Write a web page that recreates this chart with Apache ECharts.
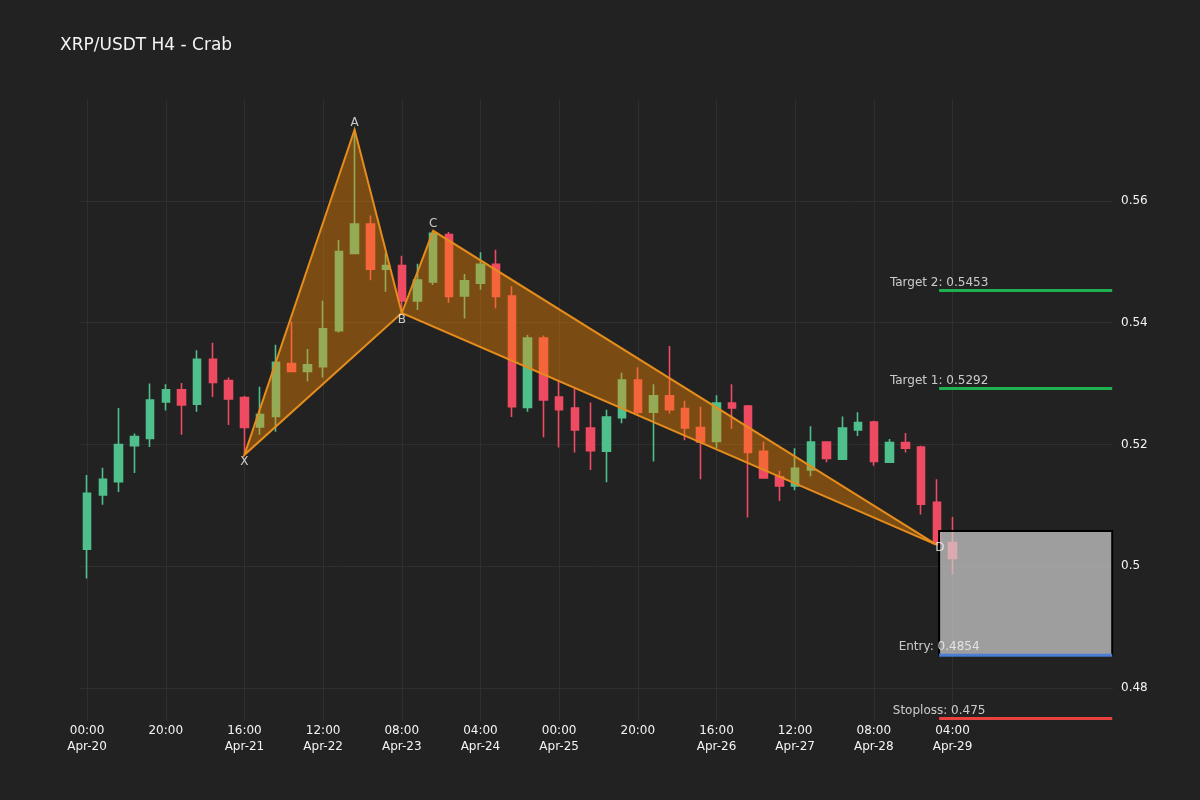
<!DOCTYPE html>
<html>
<head>
<meta charset="utf-8">
<script src="https://cdn.jsdelivr.net/npm/echarts@6/dist/echarts.min.js"></script>
<style>
  html, body { margin: 0; padding: 0; background: #222222; }
  #chart { width: 1200px; height: 800px; }
</style>
</head>
<body>
<div id="chart"></div>
<script>
// H4 candles, index 0 = Apr-20 00:00
const opens = [0.5028, 0.5117, 0.5139, 0.5198, 0.5210, 0.5270, 0.5290, 0.5266, 0.5340, 0.5305,
  0.5277, 0.5229, 0.5246, 0.5333, 0.5320, 0.5328, 0.5387, 0.5514, 0.5562, 0.5488,
  0.5494, 0.5436, 0.5467, 0.5545, 0.5444, 0.5465, 0.5496, 0.5444, 0.5261, 0.5375,
  0.5278, 0.5260, 0.5227, 0.5189, 0.5244, 0.5306, 0.5253, 0.5280, 0.5259, 0.5228,
  0.5205, 0.5268, 0.5263, 0.5189, 0.5147, 0.5132, 0.5158, 0.5204, 0.5176, 0.5224,
  0.5237, 0.5171, 0.5203, 0.5196, 0.5105, 0.5039];
const closes = [0.5120, 0.5143, 0.5200, 0.5213, 0.5273, 0.5290, 0.5265, 0.5340, 0.5302, 0.5275,
  0.5228, 0.5249, 0.5335, 0.5320, 0.5331, 0.5390, 0.5517, 0.5562, 0.5488, 0.5494,
  0.5436, 0.5470, 0.5547, 0.5443, 0.5469, 0.5496, 0.5443, 0.5262, 0.5375, 0.5273,
  0.5257, 0.5224, 0.5190, 0.5245, 0.5306, 0.5253, 0.5280, 0.5257, 0.5227, 0.5204,
  0.5268, 0.5260, 0.5187, 0.5145, 0.5132, 0.5161, 0.5204, 0.5177, 0.5227, 0.5236,
  0.5172, 0.5203, 0.5194, 0.5102, 0.5037, 0.5013];
const lows = [0.4980, 0.5101, 0.5122, 0.5153, 0.5196, 0.5256, 0.5216, 0.5254, 0.5278, 0.5232,
  0.5183, 0.5216, 0.5221, 0.5319, 0.5304, 0.5310, 0.5384, 0.5514, 0.5470, 0.5451,
  0.5416, 0.5421, 0.5462, 0.5433, 0.5407, 0.5454, 0.5424, 0.5245, 0.5254, 0.5212,
  0.5195, 0.5187, 0.5158, 0.5138, 0.5235, 0.5249, 0.5172, 0.5251, 0.5207, 0.5143,
  0.5194, 0.5226, 0.5080, 0.5144, 0.5107, 0.5125, 0.5148, 0.5171, 0.5175, 0.5214,
  0.5165, 0.5170, 0.5187, 0.5085, 0.5035, 0.4987];
const highs = [0.5150, 0.5162, 0.5260, 0.5218, 0.5300, 0.5299, 0.5301, 0.5355, 0.5367, 0.5310,
  0.5280, 0.5295, 0.5364, 0.5402, 0.5357, 0.5436, 0.5536, 0.5717, 0.5576, 0.5514,
  0.5510, 0.5497, 0.5551, 0.5549, 0.5480, 0.5516, 0.5520, 0.5460, 0.5380, 0.5379,
  0.5306, 0.5292, 0.5269, 0.5257, 0.5318, 0.5327, 0.5299, 0.5362, 0.5272, 0.5262,
  0.5281, 0.5299, 0.5265, 0.5205, 0.5157, 0.5194, 0.5230, 0.5205, 0.5246, 0.5253,
  0.5239, 0.5209, 0.5219, 0.5198, 0.5143, 0.5081];

// x-axis ticks (candle index) and their labels
const tickValues = [0, 5, 10, 15, 20, 25, 30, 35, 40, 45, 50, 55];
const tickLabels = ['00:00\nApr-20', '20:00', '16:00\nApr-21', '12:00\nApr-22', '08:00\nApr-23',
  '04:00\nApr-24', '00:00\nApr-25', '20:00', '16:00\nApr-26', '12:00\nApr-27',
  '08:00\nApr-28', '04:00\nApr-29'];
const priceTicks = [0.48, 0.5, 0.52, 0.54, 0.56];

// crab pattern points
const patternNames = ['X', 'A', 'B', 'C', 'D'];
const patternIdx = [10, 17, 20, 22, 54];
const patternPrice = [0.5183, 0.5717, 0.5416, 0.5551, 0.5035];

// trade box and levels
const boxStart = 54.15;
const boxEnd = 65.15;
const boxTop = 0.5058;
const levelNames = ['Target 2', 'Target 1', 'Entry', 'Stoploss'];
const levelValues = [0.5453, 0.5292, 0.4854, 0.475];
const levelColors = ['#1fb14f', '#1fb14f', '#4a7fd4', '#e8413f'];

const candleData = opens.map((o, i) => [i, o, closes[i], lows[i], highs[i]]);

const triangles = [[0, 1, 2], [2, 3, 4]].map(t =>
  t.reduce((acc, k) => acc.concat([patternIdx[k], patternPrice[k]]), []));

const labelPos = { X: 'bottom', A: 'top', B: 'bottom', C: 'top', D: 'inside' };
const pointLabels = patternNames.map((n, i) => ({
  name: n,
  value: [patternIdx[i], patternPrice[i]],
  label: {
    position: labelPos[n],
    distance: 1,
    offset: n === 'D' ? [3, 3] : [0, 0]
  }
}));

const textColor = '#f4f4f4';
const gridColor = '#2f2f2f';

const chart = echarts.init(document.getElementById('chart'));

const levelSeries = levelValues.map((v, i) => ({
  type: 'line',
  name: levelNames[i],
  data: [[boxStart, v], [boxEnd, v]],
  symbol: 'none',
  lineStyle: { color: levelColors[i], width: 3 },
  z: 5,
  silent: true
}));

chart.setOption({
  backgroundColor: '#222222',
  animation: false,
  title: {
    text: 'XRP/USDT H4 - Crab',
    left: 60,
    top: 37,
    padding: 0,
    textStyle: { color: textColor, fontSize: 17, fontWeight: 'normal', fontFamily: 'DejaVu Sans' }
  },
  grid: { left: 80, right: 87, top: 100, bottom: 79 },
  xAxis: {
    type: 'value',
    min: -0.45,
    max: 65.2,
    axisLine: { show: false },
    axisTick: { show: false, customValues: tickValues },
    axisLabel: {
      customValues: tickValues,
      color: textColor,
      fontSize: 12,
      fontFamily: 'DejaVu Sans',
      lineHeight: 16,
      margin: 2,
      formatter: v => tickLabels[tickValues.indexOf(v)] || ''
    },
    splitLine: { show: true, lineStyle: { color: gridColor, width: 1 } }
  },
  yAxis: {
    type: 'value',
    position: 'right',
    min: 0.47458,
    max: 0.57659,
    axisLine: { show: false },
    axisTick: { show: false, customValues: priceTicks },
    axisLabel: {
      customValues: priceTicks,
      color: textColor,
      fontSize: 12,
      fontFamily: 'DejaVu Sans',
      margin: 8,
      formatter: v => String(v)
    },
    splitLine: { show: true, lineStyle: { color: gridColor, width: 1 } }
  },
  series: [
    {
      type: 'candlestick',
      data: candleData,
      barWidth: 8,
      itemStyle: {
        color: '#4fbf8c',
        color0: '#ee4b62',
        borderColor: '#4fbf8c',
        borderColor0: '#ee4b62',
        borderWidth: 1.6
      },
      z: 2
    },
    {
      type: 'custom',
      data: triangles,
      renderItem: (params, api) => {
        const pts = [0, 1, 2].map(k => api.coord([api.value(2 * k), api.value(2 * k + 1)]));
        return {
          type: 'polygon',
          shape: { points: pts },
          style: { fill: 'rgba(255,140,0,0.4)', stroke: '#e48c1c', lineWidth: 2 }
        };
      },
      z: 3,
      silent: true
    },
    {
      type: 'custom',
      data: [[boxStart, boxTop, boxEnd, levelValues[2]]],
      renderItem: (params, api) => {
        const p1 = api.coord([api.value(0), api.value(1)]);
        const p2 = api.coord([api.value(2), api.value(3)]);
        return {
          type: 'rect',
          shape: { x: p1[0], y: p1[1], width: p2[0] - p1[0], height: p2[1] - p1[1] },
          style: { fill: 'rgba(211,211,211,0.7)', stroke: '#000000', lineWidth: 2 }
        };
      },
      z: 4,
      silent: true
    },
    ...levelSeries,
    {
      type: 'scatter',
      data: levelValues.map((v, i) => ({ name: levelNames[i], value: [boxStart, v] })),
      symbolSize: 0,
      label: {
        show: true,
        position: 'top',
        distance: 2,
        color: textColor,
        fontSize: 12,
        fontFamily: 'DejaVu Sans',
        formatter: p => p.name + ': ' + p.value[1]
      },
      z: 6,
      silent: true
    },
    {
      type: 'scatter',
      data: pointLabels,
      symbolSize: 0,
      label: {
        show: true,
        color: textColor,
        fontSize: 12,
        fontFamily: 'DejaVu Sans',
        formatter: p => p.name
      },
      z: 6,
      silent: true
    }
  ]
});
</script>
</body>
</html>
